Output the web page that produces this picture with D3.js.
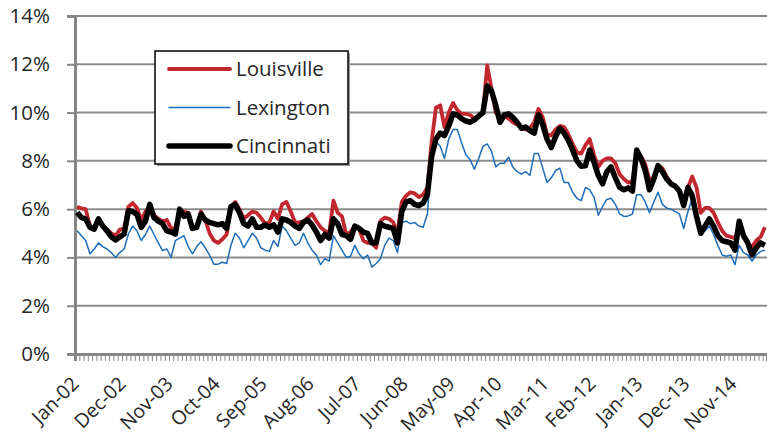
<!DOCTYPE html>
<html>
<head>
<meta charset="utf-8">
<script src="https://cdn.jsdelivr.net/npm/d3@7"></script>
<style>
  body { margin: 0; background: #fff; }
  text { font-family: 'Open Sans', sans-serif; }
</style>
</head>
<body>
<svg id="chart" width="767" height="440"></svg>
<script>
// monthly unemployment rate, %, Jan-02 .. Jun-15 (one row per year)
const louisville = [
    6.1, 6.03, 6.0, 5.3, 5.2, 5.55, 5.35, 5.15, 5.0, 4.9, 5.15, 5.2,
    6.1, 6.25, 6.05, 5.55, 5.9, 6.1, 5.75, 5.6, 5.5, 5.55, 5.2, 5.2,
    5.9, 5.9, 5.85, 5.2, 5.25, 5.9, 5.55, 5.0, 4.7, 4.6, 4.75, 4.95,
    6.1, 6.3, 6.0, 5.6, 5.75, 5.9, 5.85, 5.65, 5.4, 5.45, 5.9, 5.6,
    6.2, 6.3, 5.9, 5.45, 5.45, 5.5, 5.65, 5.8, 5.5, 5.25, 5.1, 5.0,
    6.35, 5.85, 5.7, 4.95, 5.05, 5.3, 5.2, 4.7, 4.6, 4.6, 4.4, 5.5,
    5.65, 5.6, 5.45, 5.0, 6.3, 6.55, 6.7, 6.65, 6.5, 6.6, 6.9, 8.8,
    10.2, 10.3, 9.4, 10.0, 10.4, 10.1, 9.95, 9.95, 9.9, 9.75, 9.85, 10.0,
    11.95, 11.0, 10.0, 9.8, 9.85, 9.75, 9.6, 9.5, 9.4, 9.3, 9.35, 9.6,
    10.15, 9.8, 9.1, 9.05, 9.3, 9.45, 9.4, 9.1, 8.7, 8.35, 8.3, 8.65,
    8.9, 8.25, 7.75, 8.0, 8.1, 8.1, 7.9, 7.45, 7.25, 7.1, 7.15, 8.3,
    8.2, 7.85, 7.2, 7.3, 7.8, 7.7, 7.35, 7.1, 6.95, 6.75, 6.4, 6.9,
    7.35, 6.9, 5.85, 6.05, 6.05, 5.85, 5.45, 5.1, 4.9, 4.85, 4.8, 5.3,
    4.95, 4.55, 4.45, 4.7, 4.85, 5.25
];
const lexington = [
    5.1, 4.9, 4.7, 4.15, 4.35, 4.6, 4.45, 4.35, 4.2, 4.0, 4.2, 4.35,
    4.97, 5.3, 5.1, 4.7, 4.95, 5.3, 4.95, 4.6, 4.28, 4.35, 4.0, 4.7,
    4.8, 4.9, 4.45, 4.15, 4.45, 4.65, 4.4, 4.1, 3.72, 3.72, 3.8, 3.75,
    4.5, 5.0, 4.8, 4.4, 4.7, 5.0, 4.8, 4.4, 4.3, 4.25, 4.7, 4.45,
    5.3, 5.1, 4.8, 4.5, 4.6, 5.0, 4.6, 4.3, 4.1, 3.7, 3.95, 3.85,
    4.9, 4.6, 4.3, 4.0, 4.05, 4.5, 4.15, 3.95, 4.1, 3.6, 3.75, 3.95,
    4.5, 4.8, 4.7, 4.2, 5.45, 5.5, 5.4, 5.45, 5.3, 5.25, 5.8, 8.3,
    8.8, 8.6, 8.1, 8.9, 9.3, 9.3, 8.75, 8.25, 8.05, 7.65, 8.1, 8.6,
    8.7, 8.4, 7.75, 7.9, 7.9, 8.15, 7.75, 7.55, 7.45, 7.55, 7.4, 8.3,
    8.3, 7.7, 7.1, 7.3, 7.6, 7.7, 7.1, 7.1, 6.7, 6.45, 6.35, 6.9,
    6.8, 6.5, 5.75, 6.1, 6.4, 6.45, 6.2, 5.8, 5.7, 5.72, 5.8, 6.6,
    6.6, 6.3, 5.85, 6.3, 6.7, 6.2, 6.05, 6.0, 5.9, 5.8, 5.2, 5.9,
    6.45, 5.6, 5.0, 5.1, 5.3, 4.95, 4.5, 4.1, 4.05, 4.1, 3.7, 4.5,
    4.2, 4.1, 3.85, 4.1, 4.25, 4.3
];
const cincinnati = [
    5.86, 5.65, 5.6, 5.25, 5.17, 5.6, 5.3, 5.1, 4.85, 4.72, 4.85, 4.97,
    5.93, 5.9, 5.78, 5.24, 5.5, 6.2, 5.65, 5.5, 5.4, 5.1, 5.05, 4.97,
    6.0, 5.7, 5.8, 5.2, 5.25, 5.8, 5.55, 5.45, 5.4, 5.35, 5.4, 5.2,
    6.1, 6.2, 5.85, 5.4, 5.3, 5.6, 5.25, 5.25, 5.35, 5.25, 5.35, 5.05,
    5.6, 5.55, 5.45, 5.3, 5.2, 5.45, 5.55, 5.35, 5.05, 4.7, 4.95, 4.8,
    5.6, 5.4, 4.95, 4.9, 4.75, 5.3, 5.2, 5.05, 5.0, 4.6, 4.6, 5.4,
    5.3, 5.25, 5.2, 4.6, 5.9, 6.3, 6.35, 6.2, 6.15, 6.25, 6.6, 8.2,
    8.9, 9.15, 9.05, 9.45, 9.95, 9.9, 9.75, 9.65, 9.6, 9.7, 9.85, 10.0,
    11.1, 10.9, 10.3, 9.6, 9.9, 9.95, 9.8, 9.6, 9.35, 9.4, 9.25, 9.15,
    9.9, 9.5, 8.9, 8.55, 9.0, 9.35, 9.15, 8.85, 8.45, 8.0, 7.78, 7.8,
    8.45, 7.95, 7.4, 7.05, 7.55, 7.75, 7.3, 6.9, 6.8, 6.88, 6.75, 8.45,
    8.1, 7.6, 6.8, 7.25, 7.8, 7.55, 7.25, 7.05, 6.95, 6.75, 6.15, 6.9,
    6.55, 5.7, 5.0, 5.3, 5.6, 5.3, 4.9, 4.7, 4.65, 4.6, 4.3, 5.5,
    4.9, 4.6, 4.1, 4.4, 4.6, 4.5
];

const yTicks = [0, 2, 4, 6, 8, 10, 12, 14];
const tickLabels = ['Jan-02', 'Dec-02', 'Nov-03', 'Oct-04', 'Sep-05', 'Aug-06', 'Jul-07', 'Jun-08',
    'May-09', 'Apr-10', 'Mar-11', 'Feb-12', 'Jan-13', 'Dec-13', 'Nov-14'];
const labelEvery = 11;
const months = d3.timeMonth.range(new Date(2002, 0, 1), new Date(2015, 6, 1));

const series = [
    { name: 'Louisville', values: louisville, color: '#c1272d', width: 3.8 },
    { name: 'Lexington', values: lexington, color: '#1f6db8', width: 1.5 },
    { name: 'Cincinnati', values: cincinnati, color: '#000000', width: 5.5 }
];

const plot = { left: 75, right: 767, top: 16, bottom: 354 };
const svg = d3.select('#chart');

const x = d3.scaleBand().domain(d3.range(months.length)).range([plot.left, plot.right]);
const xEdge = d3.scaleLinear().domain([0, months.length]).range([plot.left, plot.right]);
const y = d3.scaleLinear().domain([0, 14]).range([plot.bottom, plot.top]);

// gridlines
svg.append('g')
    .selectAll('line')
    .data(yTicks.filter(d => d > 0))
    .join('line')
    .attr('x1', plot.left)
    .attr('x2', plot.right)
    .attr('y1', d => y(d))
    .attr('y2', d => y(d))
    .attr('stroke', '#8c8c8c')
    .attr('stroke-width', 2);

// y axis
const yAxis = svg.append('g')
    .attr('transform', `translate(${plot.left},0)`)
    .call(d3.axisLeft(y).tickValues(yTicks).tickSize(8).tickPadding(17).tickFormat(d => d + '%'));
yAxis.select('.domain').attr('stroke', '#868686').attr('stroke-width', 3);
yAxis.selectAll('.tick line').attr('stroke', '#868686').attr('stroke-width', 2);
yAxis.selectAll('.tick text')
    .attr('font-family', "'Open Sans', sans-serif")
    .attr('font-size', 20.5)
    .attr('fill', '#262626');

// x axis, one tick between each month
const xAxis = svg.append('g')
    .attr('transform', `translate(0,${plot.bottom})`)
    .call(d3.axisBottom(xEdge).tickValues(d3.range(months.length + 1)).tickSize(7).tickFormat(''));
xAxis.select('.domain').attr('stroke', '#868686').attr('stroke-width', 3);
xAxis.selectAll('.tick line').attr('stroke', '#868686').attr('stroke-width', 1);

svg.append('g')
    .selectAll('text')
    .data(tickLabels)
    .join('text')
    .attr('transform', (d, i) => `translate(${x(i * labelEvery) + x.bandwidth() / 2 + 3},385) rotate(-45)`)
    .attr('text-anchor', 'end')
    .attr('font-size', 19.5)
    .attr('fill', '#262626')
    .text(d => d);

// lines
const line = d3.line()
    .x((d, i) => x(i) + x.bandwidth() / 2)
    .y(d => y(d));

svg.append('g')
    .selectAll('path')
    .data(series)
    .join('path')
    .attr('d', d => line(d.values))
    .attr('fill', 'none')
    .attr('stroke', d => d.color)
    .attr('stroke-width', d => d.width)
    .attr('stroke-linejoin', 'round');

// legend
const legend = svg.append('g').attr('transform', 'translate(155,51)');
legend.append('rect')
    .attr('x', 2).attr('y', 2)
    .attr('width', 193).attr('height', 113)
    .attr('fill', '#9a9a9a');
legend.append('rect')
    .attr('width', 193).attr('height', 113)
    .attr('fill', '#fff')
    .attr('stroke', '#000')
    .attr('stroke-width', 1.5);

const rows = legend.selectAll('g.row')
    .data(series)
    .join('g')
    .attr('class', 'row')
    .attr('transform', (d, i) => `translate(0,${18 + i * 38.5})`);
rows.append('line')
    .attr('x1', 14).attr('x2', 75)
    .attr('stroke', d => d.color)
    .attr('stroke-width', d => d.width)
    .attr('stroke-linecap', 'round');
rows.append('text')
    .attr('x', 81)
    .attr('dy', '0.36em')
    .attr('font-size', 20.5)
    .attr('fill', '#262626')
    .text(d => d.name);
</script>
</body>
</html>
